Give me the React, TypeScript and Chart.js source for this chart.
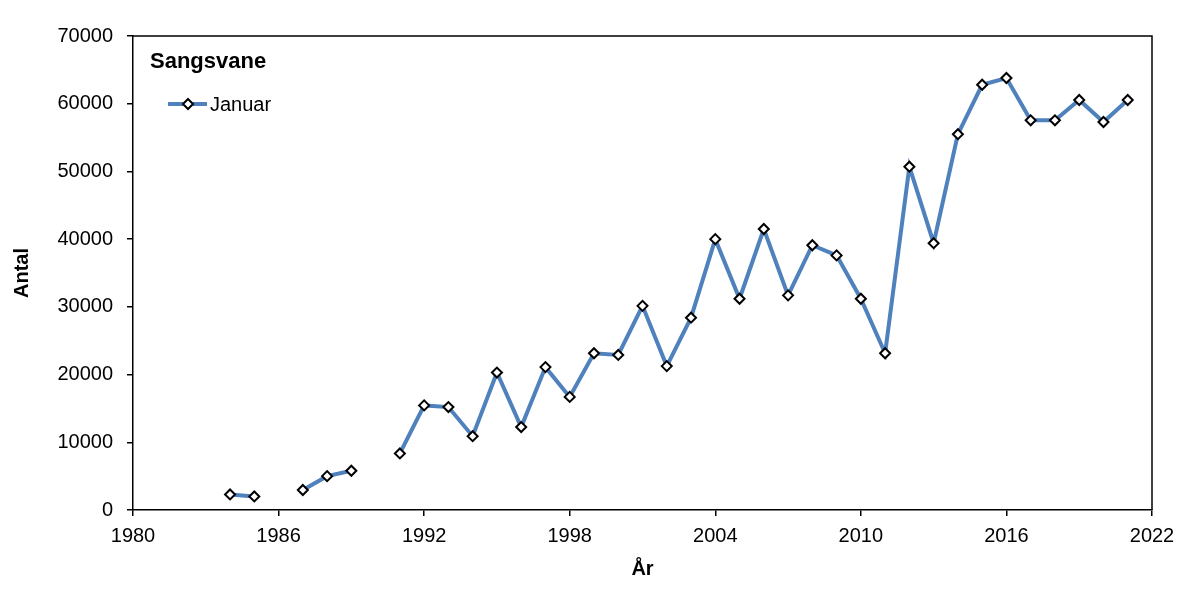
import React, { useEffect, useRef } from "react";
import { Chart, registerables } from "chart.js";

Chart.register(...registerables);

const chartTitle = "Sangsvane";
const seriesLabel = "Januar";
const xTitle = "År";
const yTitle = "Antal";

const years = [
  1984, 1985, 1986, 1987, 1988, 1989, 1990, 1991, 1992, 1993, 1994, 1995, 1996,
  1997, 1998, 1999, 2000, 2001, 2002, 2003, 2004, 2005, 2006, 2007, 2008, 2009,
  2010, 2011, 2012, 2013, 2014, 2015, 2016, 2017, 2018, 2019, 2020, 2021,
];
const counts: (number | null)[] = [
  2300, 2000, null, 2950, 5000, 5800, null, 8350, 15450, 15200, 10900, 20300,
  12250, 21100, 16700, 23150, 22900, 30150, 21250, 28400, 40000, 31200, 41500,
  31700, 39100, 37600, 31200, 23150, 50700, 39400, 55500, 62800, 63800, 57550,
  57550, 60550, 57300, 60550,
];

const xMin = 1980;
const xMax = 2022;
const xStep = 6;
const yMin = 0;
const yMax = 70000;
const yStep = 10000;

const FONT = "'Liberation Sans', Arial, Helvetica, sans-serif";
const LINE_COLOR = "#4F81BD";

const framePlugin = {
  id: "frame",
  afterDatasetsDraw(chart: any) {
    const { ctx, chartArea } = chart;
    ctx.save();
    ctx.strokeStyle = "#000";
    ctx.lineWidth = 1.5;
    ctx.beginPath();
    ctx.moveTo(chartArea.left, chartArea.top);
    ctx.lineTo(chartArea.right, chartArea.top);
    ctx.lineTo(chartArea.right, chartArea.bottom);
    ctx.stroke();
    ctx.restore();
  },
};

const legendPlugin = {
  id: "customLegend",
  afterDraw(chart: any) {
    const { ctx, chartArea } = chart;
    const ds = chart.data.datasets[0];
    const x0 = chartArea.left;
    const y0 = chartArea.top;
    ctx.save();
    ctx.fillStyle = "#000";
    ctx.font = `bold 22px ${FONT}`;
    ctx.textBaseline = "middle";
    ctx.textAlign = "left";
    ctx.fillText(chartTitle, x0 + 17, y0 + 26);
    const ly = y0 + 68;
    ctx.strokeStyle = ds.borderColor;
    ctx.lineWidth = ds.borderWidth;
    ctx.beginPath();
    ctx.moveTo(x0 + 35, ly);
    ctx.lineTo(x0 + 74, ly);
    ctx.stroke();
    const cx = x0 + 55;
    const r = 5;
    ctx.fillStyle = "#fff";
    ctx.strokeStyle = "#000";
    ctx.lineWidth = 2;
    ctx.beginPath();
    ctx.moveTo(cx, ly - r);
    ctx.lineTo(cx + r, ly);
    ctx.lineTo(cx, ly + r);
    ctx.lineTo(cx - r, ly);
    ctx.closePath();
    ctx.fill();
    ctx.stroke();
    ctx.fillStyle = "#000";
    ctx.font = `20px ${FONT}`;
    ctx.fillText(ds.label, x0 + 77, ly + 1);
    ctx.restore();
  },
};

export default function App() {
  const canvasRef = useRef<HTMLCanvasElement>(null);

  useEffect(() => {
    if (!canvasRef.current) return;
    const points = years.map((yr, i) => ({ x: yr, y: counts[i] }));
    const chart = new Chart(canvasRef.current, {
      type: "line",
      data: {
        datasets: [
          {
            label: seriesLabel,
            data: points as any,
            borderColor: LINE_COLOR,
            backgroundColor: "#fff",
            borderWidth: 4,
            pointStyle: "rectRot",
            pointRadius: 5,
            pointBorderWidth: 2,
            pointBorderColor: "#000",
            pointBackgroundColor: "#fff",
            spanGaps: false,
            tension: 0,
          },
        ],
      },
      plugins: [framePlugin, legendPlugin],
      options: {
        animation: false,
        responsive: true,
        maintainAspectRatio: false,
        layout: { padding: { left: 0, top: 36, right: 48, bottom: 0 } },
        plugins: {
          legend: { display: false },
          tooltip: { enabled: false },
        },
        scales: {
          x: {
            type: "linear",
            min: xMin,
            max: xMax,
            afterFit(scale: any) {
              scale.height = 98;
            },
            ticks: {
              stepSize: xStep,
              color: "#000",
              font: { family: FONT, size: 20 },
              padding: 8,
              maxRotation: 0,
              callback: (v: any) => String(v),
            },
            grid: {
              drawOnChartArea: false,
              color: "#000",
              lineWidth: 1.5,
              tickLength: 6,
            },
            border: { display: true, color: "#000", width: 1.5 },
            title: {
              display: true,
              text: xTitle,
              color: "#000",
              font: { family: FONT, size: 20, weight: "bold" },
              padding: { top: 0, bottom: 27 },
            },
          },
          y: {
            type: "linear",
            min: yMin,
            max: yMax,
            afterFit(scale: any) {
              scale.width = 133;
            },
            ticks: {
              stepSize: yStep,
              color: "#000",
              font: { family: FONT, size: 20 },
              padding: 14,
              callback: (v: any) => String(v),
            },
            grid: {
              drawOnChartArea: false,
              color: "#000",
              lineWidth: 1.5,
              tickLength: 6,
            },
            border: { display: true, color: "#000", width: 1.5 },
            title: {
              display: true,
              text: yTitle,
              color: "#000",
              font: { family: FONT, size: 20, weight: "bold" },
              padding: { top: 10, bottom: 0 },
            },
          },
        },
      },
    });
    return () => chart.destroy();
  }, []);

  return (
    <div
      style={{
        position: "fixed",
        left: 0,
        top: 0,
        width: 1200,
        height: 608,
        background: "#fff",
      }}
    >
      <canvas ref={canvasRef} />
    </div>
  );
}
